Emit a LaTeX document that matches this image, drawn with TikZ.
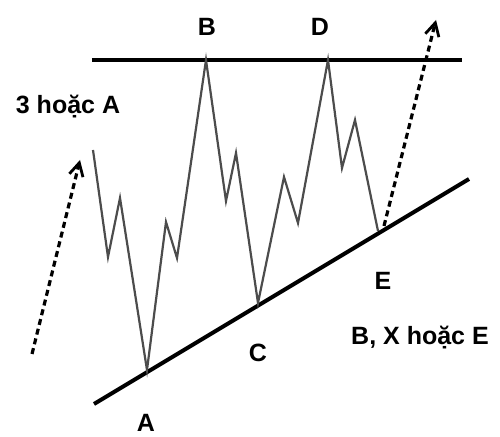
\documentclass[tikz,border=0pt]{standalone}
\usepackage{fontspec}
\setmainfont{Liberation Sans}
\usetikzlibrary{arrows.meta}

\begin{document}
\begin{tikzpicture}[x=0.5pt,y=-0.5pt,
    trend/.style={line width=2pt,black},
    wave/.style={line width=1.1pt,black!70,line join=miter},
    breakout/.style={line width=1.6pt,dash pattern=on 3pt off 2pt,
      -{Straight Barb[length=6.5pt,width=7pt,line width=1.4pt]}},
    lbl/.style={font=\bfseries\fontsize{12.5}{14}\selectfont,inner sep=0pt}]
        \useasboundingbox (0,0) rectangle (500,437);
        % Trend lines
        \coordinate (topL) at (92,60);
        \coordinate (topR) at (462,60);
        \coordinate (lowL) at (94,404);
        \coordinate (lowR) at (469,179);
        \draw[trend] (topL) -- (topR);
        \draw[trend] (lowL) -- (lowR);
        % Wave points
        \coordinate (w0) at (93,150);
        \coordinate (w1) at (108,257);
        \coordinate (w2) at (120,198);
        \coordinate (pA) at (147,370);
        \coordinate (w3) at (166,222);
        \coordinate (w4) at (177,258);
        \coordinate (pB) at (206,60);
        \coordinate (w5) at (226,201);
        \coordinate (w6) at (236,153);
        \coordinate (pC) at (258,303);
        \coordinate (w7) at (284,177);
        \coordinate (w8) at (298,223);
        \coordinate (pD) at (328,60);
        \coordinate (w9) at (342,168);
        \coordinate (w10) at (355,120);
        \coordinate (pE) at (378,231);
        \draw[wave] (w0) -- (w1) -- (w2) -- (pA) -- (w3) -- (w4) -- (pB) -- (w5) -- (w6)
          -- (pC) -- (w7) -- (w8) -- (pD) -- (w9) -- (w10) -- (pE);
        % Breakout arrows
        \coordinate (inS) at (32,354);
        \coordinate (inT) at (80,160);
        \coordinate (outS) at (384,226);
        \coordinate (outT) at (436,20);
        \draw[breakout] (inS) -- (inT);
        \draw[breakout] (outS) -- (outT);
        % Labels
        \node[lbl] (lB) at (207,27) {B};
        \node[lbl] (lD) at (320,27) {D};
        \node[lbl] (lA) at (146,423) {A};
        \node[lbl] (lC) at (258,353) {C};
        \node[lbl] (lE) at (383,281) {E};
        \node[lbl] (lin) at (68,107) {3 hoặc A};
        \node[lbl] (lout) at (420,338) {B, X hoặc E};
\end{tikzpicture}
\end{document}
